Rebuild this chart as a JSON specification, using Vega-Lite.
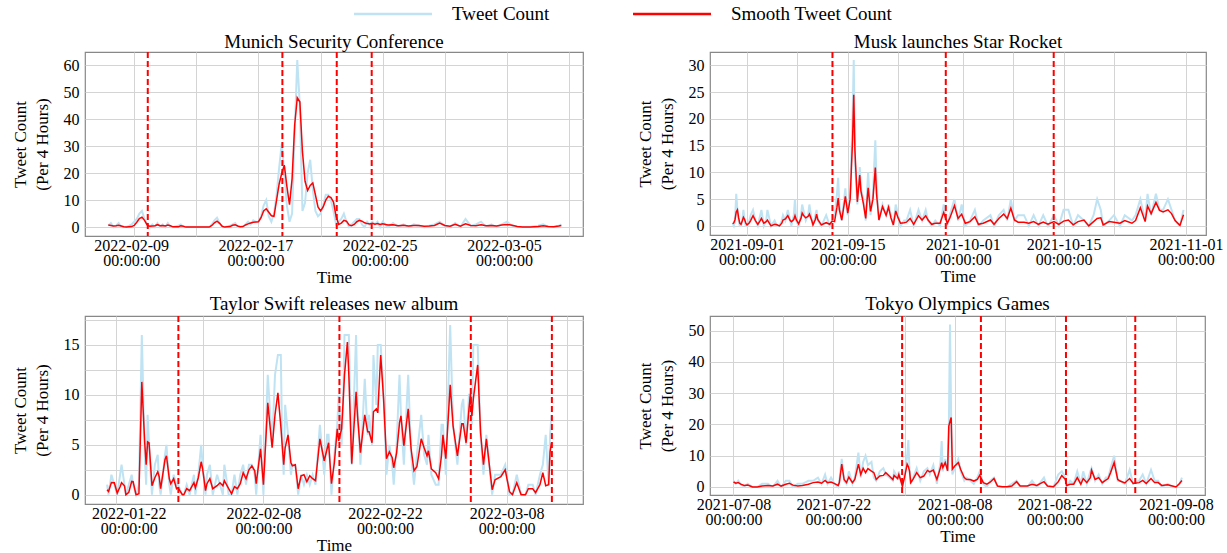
{
"$schema": "https://vega.github.io/schema/vega-lite/v6.json",
"background": "white",
"padding": {"left": 10, "top": 3, "right": 5, "bottom": 2},
"config": {
  "font": "'Liberation Serif', 'Times New Roman', 'DejaVu Serif', serif",
  "view": {"stroke": "#888888", "strokeWidth": 1.2},
  "style": {"guide-label": {"font": "'Liberation Serif', 'Times New Roman', 'DejaVu Serif', serif"}, "guide-title": {"font": "'Liberation Serif', 'Times New Roman', 'DejaVu Serif', serif"}},
  "axis": {"labelFont": "'Liberation Serif', 'Times New Roman', 'DejaVu Serif', serif", "titleFont": "'Liberation Serif', 'Times New Roman', 'DejaVu Serif', serif", "labelFontSize": 16, "titleFontSize": 17, "labelColor": "#000000", "titleColor": "#000000", "titleFontWeight": "normal", "gridColor": "#d4d4d4", "gridWidth": 1, "domain": false, "ticks": false, "labelOverlap": false, "labelBound": false, "labelFlush": false},
  "axisX": {"labelPadding": 1, "labelLineHeight": 15, "titlePadding": 1, "labelAngle": 0},
  "axisY": {"labelPadding": 6, "minExtent": 24, "maxExtent": 24, "titlePadding": 10, "titleLineHeight": 22},
  "title": {"font": "'Liberation Serif', 'Times New Roman', 'DejaVu Serif', serif", "fontSize": 19, "fontWeight": "normal", "color": "#000000", "anchor": "middle"}
},
"datasets": {
"p1": [
{"t":"2022-02-07T08:00","raw":0.5,"smooth":0.8},{"t":"2022-02-07T12:00","raw":1.5,"smooth":0.6},{"t":"2022-02-07T16:00","raw":0,"smooth":0.4},{"t":"2022-02-07T20:00","raw":0.5,"smooth":0.5},
{"t":"2022-02-08T00:00","raw":1.5,"smooth":0.7},{"t":"2022-02-08T04:00","raw":0,"smooth":0.4},{"t":"2022-02-08T08:00","raw":0,"smooth":0.1},{"t":"2022-02-08T12:00","raw":0,"smooth":0},{"t":"2022-02-08T16:00","raw":0.5,"smooth":0.1},{"t":"2022-02-08T20:00","raw":1,"smooth":0.2},
{"t":"2022-02-09T00:00","raw":2,"smooth":0.6},{"t":"2022-02-09T04:00","raw":3,"smooth":1.8},{"t":"2022-02-09T08:00","raw":5,"smooth":3.2},{"t":"2022-02-09T12:00","raw":6,"smooth":3.7},{"t":"2022-02-09T16:00","raw":3,"smooth":2.5},{"t":"2022-02-09T20:00","raw":1,"smooth":0.8},
{"t":"2022-02-10T00:00","raw":0,"smooth":0.3},{"t":"2022-02-10T04:00","raw":1,"smooth":0.4},{"t":"2022-02-10T08:00","raw":0,"smooth":0.5},{"t":"2022-02-10T12:00","raw":1.5,"smooth":0.9},{"t":"2022-02-10T16:00","raw":0,"smooth":0.5},{"t":"2022-02-10T20:00","raw":1,"smooth":0.6},
{"t":"2022-02-11T00:00","raw":0,"smooth":0.4},{"t":"2022-02-11T04:00","raw":1.5,"smooth":0.8},{"t":"2022-02-11T08:00","raw":0,"smooth":0.5},{"t":"2022-02-11T12:00","raw":0,"smooth":0.1},{"t":"2022-02-11T20:00","raw":0.5,"smooth":0.1},
{"t":"2022-02-12T00:00","raw":1,"smooth":0.5},{"t":"2022-02-12T04:00","raw":0,"smooth":0.3},{"t":"2022-02-12T08:00","raw":0,"smooth":0},{"t":"2022-02-13T00:00","raw":0,"smooth":0},{"t":"2022-02-13T20:00","raw":0,"smooth":0},
{"t":"2022-02-14T00:00","raw":1,"smooth":0.6},{"t":"2022-02-14T04:00","raw":2.5,"smooth":1.6},{"t":"2022-02-14T08:00","raw":3.5,"smooth":2.2},{"t":"2022-02-14T12:00","raw":1.5,"smooth":1.4},{"t":"2022-02-14T16:00","raw":0,"smooth":0.3},{"t":"2022-02-14T20:00","raw":0,"smooth":0},
{"t":"2022-02-15T04:00","raw":0.5,"smooth":0.2},{"t":"2022-02-15T08:00","raw":1,"smooth":0.7},{"t":"2022-02-15T12:00","raw":1.5,"smooth":0.9},{"t":"2022-02-15T16:00","raw":0,"smooth":0.4},{"t":"2022-02-15T20:00","raw":0,"smooth":0.1},
{"t":"2022-02-16T00:00","raw":0,"smooth":0.2},{"t":"2022-02-16T04:00","raw":1,"smooth":0.8},{"t":"2022-02-16T08:00","raw":2,"smooth":1.2},{"t":"2022-02-16T12:00","raw":1,"smooth":1.5},{"t":"2022-02-16T16:00","raw":2.5,"smooth":1.8},{"t":"2022-02-16T20:00","raw":2,"smooth":1.9},
{"t":"2022-02-17T00:00","raw":2,"smooth":2.0},{"t":"2022-02-17T04:00","raw":4,"smooth":3.5},{"t":"2022-02-17T08:00","raw":8,"smooth":6.0},{"t":"2022-02-17T12:00","raw":10,"smooth":6.8},{"t":"2022-02-17T16:00","raw":4,"smooth":5.5},{"t":"2022-02-17T20:00","raw":2,"smooth":4.2},
{"t":"2022-02-18T00:00","raw":5,"smooth":4.0},{"t":"2022-02-18T04:00","raw":12,"smooth":10},{"t":"2022-02-18T08:00","raw":22,"smooth":16},{"t":"2022-02-18T12:00","raw":31,"smooth":20},{"t":"2022-02-18T16:00","raw":20,"smooth":23},{"t":"2022-02-18T20:00","raw":8,"smooth":15},
{"t":"2022-02-19T00:00","raw":2,"smooth":8.3},{"t":"2022-02-19T04:00","raw":5,"smooth":18},{"t":"2022-02-19T08:00","raw":35,"smooth":38},{"t":"2022-02-19T12:00","raw":62,"smooth":48},{"t":"2022-02-19T16:00","raw":45,"smooth":46.5},{"t":"2022-02-19T20:00","raw":6,"smooth":28},
{"t":"2022-02-20T00:00","raw":9,"smooth":17},{"t":"2022-02-20T04:00","raw":20,"smooth":13.6},{"t":"2022-02-20T08:00","raw":25,"smooth":15.5},{"t":"2022-02-20T12:00","raw":14,"smooth":16.4},{"t":"2022-02-20T16:00","raw":6,"smooth":12},{"t":"2022-02-20T20:00","raw":4,"smooth":7.5},
{"t":"2022-02-21T00:00","raw":5,"smooth":6.0},{"t":"2022-02-21T04:00","raw":8,"smooth":7.5},{"t":"2022-02-21T08:00","raw":12,"smooth":10},{"t":"2022-02-21T12:00","raw":12,"smooth":11.5},{"t":"2022-02-21T16:00","raw":10,"smooth":11},{"t":"2022-02-21T20:00","raw":6,"smooth":9.3},
{"t":"2022-02-22T00:00","raw":1,"smooth":4},{"t":"2022-02-22T04:00","raw":2,"smooth":1.0},{"t":"2022-02-22T08:00","raw":3,"smooth":1.5},{"t":"2022-02-22T12:00","raw":5,"smooth":2.5},{"t":"2022-02-22T16:00","raw":2,"smooth":2.2},{"t":"2022-02-22T20:00","raw":0,"smooth":0.8},
{"t":"2022-02-23T00:00","raw":1,"smooth":0.5},{"t":"2022-02-23T04:00","raw":2,"smooth":1.0},{"t":"2022-02-23T08:00","raw":3,"smooth":2.0},{"t":"2022-02-23T12:00","raw":3,"smooth":2.5},{"t":"2022-02-23T16:00","raw":1,"smooth":2.2},{"t":"2022-02-23T20:00","raw":0,"smooth":1.6},
{"t":"2022-02-24T00:00","raw":2,"smooth":1.3},{"t":"2022-02-24T04:00","raw":1,"smooth":1.2},{"t":"2022-02-24T08:00","raw":2,"smooth":1.4},{"t":"2022-02-24T12:00","raw":1,"smooth":1.1},{"t":"2022-02-24T16:00","raw":2,"smooth":1.3},{"t":"2022-02-24T20:00","raw":0,"smooth":1.0},
{"t":"2022-02-25T00:00","raw":2,"smooth":1.2},{"t":"2022-02-25T08:00","raw":0,"smooth":0.8},{"t":"2022-02-25T16:00","raw":1.5,"smooth":0.9},{"t":"2022-02-26T00:00","raw":0,"smooth":0.5},{"t":"2022-02-26T08:00","raw":1,"smooth":0.7},{"t":"2022-02-26T16:00","raw":0,"smooth":0.4},
{"t":"2022-02-27T00:00","raw":1,"smooth":0.6},{"t":"2022-02-27T08:00","raw":0.5,"smooth":0.6},{"t":"2022-02-27T16:00","raw":0,"smooth":0.3},{"t":"2022-02-28T00:00","raw":0.5,"smooth":0.4},{"t":"2022-02-28T08:00","raw":1,"smooth":0.6},{"t":"2022-02-28T16:00","raw":2,"smooth":1.5},
{"t":"2022-03-01T00:00","raw":0.5,"smooth":0.6},{"t":"2022-03-01T08:00","raw":0,"smooth":0.3},{"t":"2022-03-01T16:00","raw":1.5,"smooth":1.0},{"t":"2022-03-02T00:00","raw":0,"smooth":0.3},{"t":"2022-03-02T08:00","raw":3,"smooth":1.2},{"t":"2022-03-02T16:00","raw":0.5,"smooth":0.6},
{"t":"2022-03-03T00:00","raw":1,"smooth":0.5},{"t":"2022-03-03T08:00","raw":2,"smooth":0.9},{"t":"2022-03-03T16:00","raw":0,"smooth":0.5},{"t":"2022-03-04T00:00","raw":1,"smooth":0.6},{"t":"2022-03-04T08:00","raw":0,"smooth":0.4},{"t":"2022-03-04T16:00","raw":1,"smooth":0.8},
{"t":"2022-03-05T00:00","raw":2,"smooth":1.0},{"t":"2022-03-05T08:00","raw":0.5,"smooth":0.7},{"t":"2022-03-05T16:00","raw":0,"smooth":0.2},{"t":"2022-03-06T00:00","raw":0,"smooth":0},{"t":"2022-03-06T12:00","raw":0,"smooth":0},
{"t":"2022-03-07T00:00","raw":0.5,"smooth":0.2},{"t":"2022-03-07T08:00","raw":1,"smooth":0.5},{"t":"2022-03-07T16:00","raw":0,"smooth":0.2},{"t":"2022-03-08T00:00","raw":0,"smooth":0.1},{"t":"2022-03-08T08:00","raw":0.5,"smooth":0.4},{"t":"2022-03-08T12:00","raw":1,"smooth":0.6}
],
"e1": [{"t":"2022-02-09T21:00"},{"t":"2022-02-18T13:00"},{"t":"2022-02-22T01:00"},{"t":"2022-02-24T07:00"}],
"p2": [
{"t":"2021-08-30T00:00","raw":0.5,"smooth":0.4},{"t":"2021-08-30T04:00","raw":0,"smooth":0.6},{"t":"2021-08-30T08:00","raw":1,"smooth":1.2},{"t":"2021-08-30T12:00","raw":6,"smooth":2.6},{"t":"2021-08-30T16:00","raw":3,"smooth":3.0},{"t":"2021-08-30T20:00","raw":1,"smooth":1.5},
{"t":"2021-08-31T00:00","raw":0,"smooth":0.5},{"t":"2021-08-31T04:00","raw":0,"smooth":0.3},{"t":"2021-08-31T08:00","raw":1,"smooth":0.9},{"t":"2021-08-31T12:00","raw":3,"smooth":1.6},{"t":"2021-08-31T16:00","raw":1,"smooth":1.2},{"t":"2021-08-31T20:00","raw":0,"smooth":0.5},
{"t":"2021-09-01T00:00","raw":0,"smooth":0.2},{"t":"2021-09-01T08:00","raw":1,"smooth":0.6},{"t":"2021-09-01T12:00","raw":2,"smooth":1.0},{"t":"2021-09-01T20:00","raw":3,"smooth":1.9},
{"t":"2021-09-02T04:00","raw":1,"smooth":1.0},{"t":"2021-09-02T12:00","raw":0,"smooth":0.3},{"t":"2021-09-02T20:00","raw":2,"smooth":1.0},
{"t":"2021-09-03T00:00","raw":3,"smooth":1.4},{"t":"2021-09-03T08:00","raw":0,"smooth":0.5},{"t":"2021-09-03T16:00","raw":1,"smooth":0.8},{"t":"2021-09-03T20:00","raw":3,"smooth":1.1},
{"t":"2021-09-04T08:00","raw":0,"smooth":0},{"t":"2021-09-04T20:00","raw":1,"smooth":0.3},{"t":"2021-09-05T04:00","raw":0,"smooth":0.2},{"t":"2021-09-05T12:00","raw":0,"smooth":0},{"t":"2021-09-05T20:00","raw":1,"smooth":0.5},
{"t":"2021-09-06T00:00","raw":2,"smooth":1.1},{"t":"2021-09-06T08:00","raw":1,"smooth":1.3},{"t":"2021-09-06T16:00","raw":3,"smooth":1.9},
{"t":"2021-09-07T00:00","raw":1,"smooth":1.0},{"t":"2021-09-07T04:00","raw":0,"smooth":0.8},{"t":"2021-09-07T12:00","raw":2,"smooth":1.2},{"t":"2021-09-07T16:00","raw":5,"smooth":1.9},{"t":"2021-09-07T20:00","raw":1,"smooth":1.2},
{"t":"2021-09-08T04:00","raw":0,"smooth":0.4},{"t":"2021-09-08T12:00","raw":2,"smooth":1.4},{"t":"2021-09-08T16:00","raw":4,"smooth":2.4},{"t":"2021-09-08T20:00","raw":3,"smooth":2.0},
{"t":"2021-09-09T04:00","raw":1,"smooth":1.5},{"t":"2021-09-09T12:00","raw":2,"smooth":1.8},{"t":"2021-09-09T16:00","raw":4,"smooth":2.2},
{"t":"2021-09-10T00:00","raw":1,"smooth":1.0},{"t":"2021-09-10T04:00","raw":0,"smooth":0.2},{"t":"2021-09-10T12:00","raw":2,"smooth":1.2},{"t":"2021-09-10T16:00","raw":3,"smooth":2.2},{"t":"2021-09-10T20:00","raw":1,"smooth":1.2},
{"t":"2021-09-11T08:00","raw":0,"smooth":0.2},{"t":"2021-09-11T16:00","raw":1,"smooth":0.4},{"t":"2021-09-12T00:00","raw":2,"smooth":0.6},{"t":"2021-09-12T12:00","raw":0,"smooth":0.3},{"t":"2021-09-12T20:00","raw":1,"smooth":0.9},
{"t":"2021-09-13T04:00","raw":2,"smooth":0.8},{"t":"2021-09-13T12:00","raw":6,"smooth":3.5},{"t":"2021-09-13T16:00","raw":9,"smooth":5.2},{"t":"2021-09-13T20:00","raw":4,"smooth":3.0},
{"t":"2021-09-14T04:00","raw":1,"smooth":1.1},{"t":"2021-09-14T12:00","raw":5,"smooth":4.0},{"t":"2021-09-14T16:00","raw":7,"smooth":5.5},{"t":"2021-09-14T20:00","raw":4,"smooth":4.0},
{"t":"2021-09-15T00:00","raw":2,"smooth":2.4},{"t":"2021-09-15T08:00","raw":6,"smooth":5.0},{"t":"2021-09-15T16:00","raw":20,"smooth":16},{"t":"2021-09-15T20:00","raw":31,"smooth":24.5},
{"t":"2021-09-16T00:00","raw":12,"smooth":14},{"t":"2021-09-16T08:00","raw":4,"smooth":4.5},{"t":"2021-09-16T16:00","raw":11,"smooth":9.5},{"t":"2021-09-16T20:00","raw":7,"smooth":6.5},
{"t":"2021-09-17T04:00","raw":5,"smooth":4.2},{"t":"2021-09-17T12:00","raw":1,"smooth":1.4},{"t":"2021-09-17T16:00","raw":6,"smooth":4.5},{"t":"2021-09-17T20:00","raw":10,"smooth":7.1},
{"t":"2021-09-18T04:00","raw":2,"smooth":2.7},{"t":"2021-09-18T12:00","raw":6,"smooth":5.0},{"t":"2021-09-18T20:00","raw":16,"smooth":10.9},
{"t":"2021-09-19T00:00","raw":8,"smooth":6.0},{"t":"2021-09-19T08:00","raw":1,"smooth":1.1},{"t":"2021-09-19T20:00","raw":4,"smooth":3.6},
{"t":"2021-09-20T08:00","raw":2,"smooth":2.0},{"t":"2021-09-20T16:00","raw":4,"smooth":3.5},{"t":"2021-09-21T00:00","raw":2,"smooth":1.5},{"t":"2021-09-21T08:00","raw":0,"smooth":0.2},{"t":"2021-09-21T16:00","raw":4,"smooth":2.8},
{"t":"2021-09-22T00:00","raw":2,"smooth":1.5},{"t":"2021-09-22T08:00","raw":0,"smooth":0.5},{"t":"2021-09-22T20:00","raw":1,"smooth":0.6},{"t":"2021-09-23T04:00","raw":1,"smooth":0.7},{"t":"2021-09-23T16:00","raw":3,"smooth":1.4},
{"t":"2021-09-24T04:00","raw":0,"smooth":0.3},{"t":"2021-09-24T20:00","raw":3,"smooth":1.9},{"t":"2021-09-25T08:00","raw":1,"smooth":1.1},{"t":"2021-09-25T20:00","raw":3,"smooth":1.9},
{"t":"2021-09-26T04:00","raw":1,"smooth":1.1},{"t":"2021-09-26T16:00","raw":0,"smooth":0.3},{"t":"2021-09-27T04:00","raw":1,"smooth":0.5},{"t":"2021-09-27T20:00","raw":0,"smooth":0.5},
{"t":"2021-09-28T08:00","raw":4,"smooth":2.5},{"t":"2021-09-28T20:00","raw":0,"smooth":0.5},{"t":"2021-09-29T04:00","raw":2,"smooth":1.4},{"t":"2021-09-29T20:00","raw":5,"smooth":3.8},
{"t":"2021-09-30T08:00","raw":1,"smooth":1.4},{"t":"2021-09-30T20:00","raw":4,"smooth":2.2},{"t":"2021-10-01T08:00","raw":0,"smooth":0.5},{"t":"2021-10-02T00:00","raw":1,"smooth":0.8},{"t":"2021-10-02T16:00","raw":3,"smooth":1.7},
{"t":"2021-10-03T04:00","raw":0,"smooth":0.3},{"t":"2021-10-03T20:00","raw":1,"smooth":0.5},{"t":"2021-10-04T20:00","raw":2,"smooth":1.1},{"t":"2021-10-05T08:00","raw":0,"smooth":0.3},
{"t":"2021-10-06T00:00","raw":2,"smooth":1.4},{"t":"2021-10-06T16:00","raw":3,"smooth":2.2},{"t":"2021-10-07T04:00","raw":1,"smooth":1.4},{"t":"2021-10-07T16:00","raw":5,"smooth":3.3},
{"t":"2021-10-08T04:00","raw":1,"smooth":1.1},{"t":"2021-10-08T16:00","raw":2,"smooth":0.7},{"t":"2021-10-09T12:00","raw":2,"smooth":0.7},{"t":"2021-10-10T04:00","raw":0,"smooth":0.5},{"t":"2021-10-10T20:00","raw":2,"smooth":0.8},
{"t":"2021-10-11T12:00","raw":0,"smooth":0.3},{"t":"2021-10-12T04:00","raw":2,"smooth":0.7},{"t":"2021-10-12T20:00","raw":0,"smooth":0.3},{"t":"2021-10-13T16:00","raw":2,"smooth":0.8},
{"t":"2021-10-14T08:00","raw":0,"smooth":0.3},{"t":"2021-10-15T00:00","raw":3,"smooth":0.9},{"t":"2021-10-15T16:00","raw":3,"smooth":1.1},{"t":"2021-10-16T08:00","raw":0,"smooth":0.2},
{"t":"2021-10-17T00:00","raw":2,"smooth":0.8},{"t":"2021-10-17T20:00","raw":1,"smooth":1.1},{"t":"2021-10-18T12:00","raw":0,"smooth":0},{"t":"2021-10-19T04:00","raw":2,"smooth":0.8},{"t":"2021-10-19T16:00","raw":5,"smooth":1.4},
{"t":"2021-10-20T04:00","raw":3,"smooth":1.5},{"t":"2021-10-20T12:00","raw":0,"smooth":0.2},{"t":"2021-10-21T08:00","raw":1,"smooth":0.8},{"t":"2021-10-22T00:00","raw":2,"smooth":0.7},{"t":"2021-10-22T20:00","raw":0,"smooth":0.5},
{"t":"2021-10-23T12:00","raw":2,"smooth":1.0},{"t":"2021-10-24T12:00","raw":1,"smooth":0.5},{"t":"2021-10-25T00:00","raw":2,"smooth":1.0},{"t":"2021-10-25T16:00","raw":5,"smooth":3.4},
{"t":"2021-10-26T08:00","raw":1,"smooth":0.8},{"t":"2021-10-26T16:00","raw":6,"smooth":3.7},{"t":"2021-10-27T04:00","raw":2,"smooth":2.3},{"t":"2021-10-27T20:00","raw":6,"smooth":4.4},
{"t":"2021-10-28T08:00","raw":3,"smooth":2.9},{"t":"2021-10-28T20:00","raw":3,"smooth":2.6},{"t":"2021-10-29T12:00","raw":5,"smooth":3.0},{"t":"2021-10-30T00:00","raw":3,"smooth":2.3},{"t":"2021-10-30T12:00","raw":1,"smooth":1.0},
{"t":"2021-10-31T04:00","raw":0,"smooth":0.1},{"t":"2021-10-31T16:00","raw":3,"smooth":2.1}
],
"e2": [{"t":"2021-09-12T21:00"},{"t":"2021-09-28T15:00"},{"t":"2021-10-13T15:00"}],
"p3": [
{"t":"2022-01-21T00:00","raw":1,"smooth":0.5},{"t":"2022-01-21T04:00","raw":0,"smooth":0.33},{"t":"2022-01-21T12:00","raw":2,"smooth":1.23},{"t":"2022-01-21T20:00","raw":1,"smooth":1.2},
{"t":"2022-01-22T04:00","raw":0,"smooth":0.17},{"t":"2022-01-22T12:00","raw":2,"smooth":0.8},{"t":"2022-01-22T16:00","raw":3,"smooth":1.2},
{"t":"2022-01-23T00:00","raw":1,"smooth":0.9},{"t":"2022-01-23T04:00","raw":0,"smooth":0},{"t":"2022-01-23T12:00","raw":1,"smooth":0.25},{"t":"2022-01-23T20:00","raw":2,"smooth":1.33},
{"t":"2022-01-24T00:00","raw":1,"smooth":1.3},{"t":"2022-01-24T08:00","raw":0,"smooth":0},{"t":"2022-01-24T16:00","raw":1,"smooth":0.1},
{"t":"2022-01-25T00:00","raw":16,"smooth":11.3},{"t":"2022-01-25T08:00","raw":4,"smooth":5.2},{"t":"2022-01-25T12:00","raw":1,"smooth":3.0},{"t":"2022-01-25T16:00","raw":8,"smooth":5.3},{"t":"2022-01-25T20:00","raw":5,"smooth":5.2},
{"t":"2022-01-26T04:00","raw":0,"smooth":0.9},{"t":"2022-01-26T12:00","raw":3,"smooth":1.7},{"t":"2022-01-26T20:00","raw":4,"smooth":2.3},
{"t":"2022-01-27T00:00","raw":1,"smooth":1.8},{"t":"2022-01-27T04:00","raw":0,"smooth":0.6},{"t":"2022-01-27T16:00","raw":4,"smooth":3.5},{"t":"2022-01-27T20:00","raw":5,"smooth":3.9},
{"t":"2022-01-28T04:00","raw":1,"smooth":1.6},{"t":"2022-01-28T08:00","raw":0,"smooth":1.1},{"t":"2022-01-28T16:00","raw":2,"smooth":1.6},
{"t":"2022-01-29T00:00","raw":1,"smooth":0.6},{"t":"2022-01-29T04:00","raw":1,"smooth":0.7},{"t":"2022-01-29T16:00","raw":0,"smooth":0},{"t":"2022-01-29T20:00","raw":0,"smooth":0},
{"t":"2022-01-30T04:00","raw":1,"smooth":0.6},{"t":"2022-01-30T12:00","raw":0,"smooth":0.4},
{"t":"2022-01-31T00:00","raw":2,"smooth":1.2},{"t":"2022-01-31T04:00","raw":0,"smooth":0.7},{"t":"2022-01-31T12:00","raw":2,"smooth":1.7},{"t":"2022-01-31T20:00","raw":5,"smooth":3.3},
{"t":"2022-02-01T00:00","raw":3,"smooth":2.6},{"t":"2022-02-01T08:00","raw":0,"smooth":0.4},{"t":"2022-02-01T12:00","raw":2,"smooth":1.1},{"t":"2022-02-01T20:00","raw":3,"smooth":1.6},
{"t":"2022-02-02T04:00","raw":0,"smooth":0.6},{"t":"2022-02-02T16:00","raw":2,"smooth":0.9},
{"t":"2022-02-03T00:00","raw":1,"smooth":1.2},{"t":"2022-02-03T08:00","raw":0,"smooth":0.9},{"t":"2022-02-03T12:00","raw":3,"smooth":1.4},
{"t":"2022-02-04T00:00","raw":0,"smooth":0.6},{"t":"2022-02-04T08:00","raw":0,"smooth":0.1},{"t":"2022-02-04T16:00","raw":2,"smooth":0.8},
{"t":"2022-02-05T00:00","raw":0,"smooth":0.6},{"t":"2022-02-05T08:00","raw":2,"smooth":1.1},{"t":"2022-02-05T16:00","raw":3,"smooth":2.2},
{"t":"2022-02-06T00:00","raw":1,"smooth":1.6},{"t":"2022-02-06T08:00","raw":3,"smooth":2.5},{"t":"2022-02-06T16:00","raw":3,"smooth":2.9},
{"t":"2022-02-07T00:00","raw":2,"smooth":2.4},{"t":"2022-02-07T04:00","raw":0,"smooth":1.1},{"t":"2022-02-07T16:00","raw":6,"smooth":4.6},
{"t":"2022-02-08T00:00","raw":0,"smooth":1.0},{"t":"2022-02-08T12:00","raw":12,"smooth":9.2},
{"t":"2022-02-09T00:00","raw":5,"smooth":4.7},{"t":"2022-02-09T08:00","raw":12,"smooth":8},{"t":"2022-02-09T16:00","raw":14,"smooth":10.2},
{"t":"2022-02-10T00:00","raw":14,"smooth":6.9},{"t":"2022-02-10T04:00","raw":5,"smooth":4.9},{"t":"2022-02-10T08:00","raw":2,"smooth":3.0},{"t":"2022-02-10T12:00","raw":9,"smooth":4.7},{"t":"2022-02-10T20:00","raw":6,"smooth":6.0},
{"t":"2022-02-11T04:00","raw":2,"smooth":3.2},{"t":"2022-02-11T08:00","raw":3,"smooth":2.9},{"t":"2022-02-11T16:00","raw":3,"smooth":3.0},
{"t":"2022-02-12T00:00","raw":0,"smooth":0.6},{"t":"2022-02-12T08:00","raw":2,"smooth":1.9},{"t":"2022-02-12T16:00","raw":1,"smooth":2.0},
{"t":"2022-02-13T00:00","raw":2,"smooth":1.3},{"t":"2022-02-13T08:00","raw":1,"smooth":1.9},{"t":"2022-02-13T16:00","raw":2,"smooth":1.6},
{"t":"2022-02-14T00:00","raw":1,"smooth":1.4},{"t":"2022-02-14T12:00","raw":7,"smooth":5.6},
{"t":"2022-02-15T00:00","raw":2,"smooth":3.4},{"t":"2022-02-15T08:00","raw":6,"smooth":4.6},{"t":"2022-02-15T12:00","raw":6,"smooth":5.2},{"t":"2022-02-15T20:00","raw":0,"smooth":1.1},
{"t":"2022-02-16T04:00","raw":4,"smooth":3.2},{"t":"2022-02-16T12:00","raw":7,"smooth":6.6},{"t":"2022-02-16T16:00","raw":10,"smooth":5.4},
{"t":"2022-02-17T00:00","raw":5,"smooth":6.6},{"t":"2022-02-17T04:00","raw":9,"smooth":9.2},{"t":"2022-02-17T08:00","raw":16,"smooth":12},{"t":"2022-02-17T16:00","raw":16,"smooth":15.3},{"t":"2022-02-17T20:00","raw":16,"smooth":12},
{"t":"2022-02-18T04:00","raw":3,"smooth":3.1},{"t":"2022-02-18T16:00","raw":16,"smooth":10.3},{"t":"2022-02-18T20:00","raw":9,"smooth":7.9},
{"t":"2022-02-19T04:00","raw":3,"smooth":4.2},{"t":"2022-02-19T16:00","raw":11.6,"smooth":8.0},
{"t":"2022-02-20T00:00","raw":6,"smooth":6.3},{"t":"2022-02-20T04:00","raw":8,"smooth":6.3},{"t":"2022-02-20T12:00","raw":5,"smooth":5.2},{"t":"2022-02-20T16:00","raw":14,"smooth":8.3},
{"t":"2022-02-21T00:00","raw":9,"smooth":8.6},{"t":"2022-02-21T04:00","raw":15,"smooth":8.2},{"t":"2022-02-21T12:00","raw":15,"smooth":14},{"t":"2022-02-21T20:00","raw":10,"smooth":9.6},
{"t":"2022-02-22T04:00","raw":2,"smooth":3.6},{"t":"2022-02-22T12:00","raw":5,"smooth":4.3},{"t":"2022-02-22T20:00","raw":3,"smooth":3.7},
{"t":"2022-02-23T00:00","raw":1,"smooth":2.7},{"t":"2022-02-23T08:00","raw":5,"smooth":4.2},{"t":"2022-02-23T16:00","raw":12,"smooth":7.2},{"t":"2022-02-23T20:00","raw":8,"smooth":7.9},
{"t":"2022-02-24T04:00","raw":3,"smooth":4.9},{"t":"2022-02-24T16:00","raw":12,"smooth":8.6},
{"t":"2022-02-25T00:00","raw":4,"smooth":4.6},{"t":"2022-02-25T08:00","raw":1,"smooth":2.4},{"t":"2022-02-25T16:00","raw":4,"smooth":2.8},
{"t":"2022-02-26T04:00","raw":8,"smooth":5.6},{"t":"2022-02-26T12:00","raw":4,"smooth":4.7},{"t":"2022-02-26T20:00","raw":3,"smooth":3.9},
{"t":"2022-02-27T00:00","raw":6,"smooth":4.4},{"t":"2022-02-27T08:00","raw":2,"smooth":2.6},{"t":"2022-02-27T20:00","raw":1,"smooth":2.2},
{"t":"2022-02-28T04:00","raw":1,"smooth":1.6},{"t":"2022-02-28T12:00","raw":7,"smooth":3.9},{"t":"2022-02-28T16:00","raw":7,"smooth":6.0},
{"t":"2022-03-01T00:00","raw":2,"smooth":3.6},{"t":"2022-03-01T12:00","raw":17,"smooth":11},{"t":"2022-03-01T20:00","raw":7,"smooth":6.9},
{"t":"2022-03-02T08:00","raw":3,"smooth":3.9},{"t":"2022-03-02T20:00","raw":9,"smooth":7.1},
{"t":"2022-03-03T00:00","raw":9.6,"smooth":7.1},{"t":"2022-03-03T08:00","raw":5,"smooth":5.2},{"t":"2022-03-03T16:00","raw":10,"smooth":8.6},{"t":"2022-03-03T20:00","raw":10,"smooth":10.1},
{"t":"2022-03-04T00:00","raw":7,"smooth":7.9},{"t":"2022-03-04T04:00","raw":15,"smooth":9.6},{"t":"2022-03-04T16:00","raw":15,"smooth":13},
{"t":"2022-03-05T00:00","raw":6,"smooth":6.2},{"t":"2022-03-05T08:00","raw":2,"smooth":3.0},{"t":"2022-03-05T16:00","raw":6,"smooth":5.6},
{"t":"2022-03-06T08:00","raw":0,"smooth":0.5},{"t":"2022-03-06T16:00","raw":2,"smooth":1.5},{"t":"2022-03-07T08:00","raw":2,"smooth":1.8},{"t":"2022-03-07T20:00","raw":3,"smooth":2.5},
{"t":"2022-03-08T08:00","raw":0,"smooth":0.3},{"t":"2022-03-08T16:00","raw":0,"smooth":0},{"t":"2022-03-09T04:00","raw":2,"smooth":1.2},{"t":"2022-03-09T16:00","raw":0,"smooth":0},
{"t":"2022-03-10T04:00","raw":0,"smooth":0},{"t":"2022-03-10T12:00","raw":1,"smooth":0.6},{"t":"2022-03-11T00:00","raw":1,"smooth":0.6},{"t":"2022-03-11T08:00","raw":0,"smooth":0.2},{"t":"2022-03-11T20:00","raw":2,"smooth":1.0},
{"t":"2022-03-12T04:00","raw":3,"smooth":2.2},{"t":"2022-03-12T12:00","raw":6,"smooth":0.9},{"t":"2022-03-12T20:00","raw":1,"smooth":1.0},
{"t":"2022-03-13T00:00","raw":6,"smooth":4.3},{"t":"2022-03-13T04:00","raw":8,"smooth":5.2}
],
"e3": [{"t":"2022-01-29T05:00"},{"t":"2022-02-16T18:00"},{"t":"2022-03-03T21:00"},{"t":"2022-03-13T05:00"}],
"p4": [
{"t":"2021-07-08T00:00","raw":2,"smooth":1.6},{"t":"2021-07-08T08:00","raw":1,"smooth":1.2},{"t":"2021-07-08T16:00","raw":2,"smooth":1.4},
{"t":"2021-07-09T00:00","raw":1,"smooth":0.9},{"t":"2021-07-09T12:00","raw":0,"smooth":0.5},{"t":"2021-07-10T00:00","raw":1,"smooth":0.6},{"t":"2021-07-10T16:00","raw":0,"smooth":0},
{"t":"2021-07-11T08:00","raw":0,"smooth":0},{"t":"2021-07-12T00:00","raw":1,"smooth":0.3},{"t":"2021-07-12T20:00","raw":1,"smooth":0.5},{"t":"2021-07-13T12:00","raw":0,"smooth":0.3},
{"t":"2021-07-14T04:00","raw":2,"smooth":0.9},{"t":"2021-07-14T16:00","raw":0,"smooth":0.3},{"t":"2021-07-15T08:00","raw":2,"smooth":0.9},{"t":"2021-07-15T20:00","raw":2,"smooth":1.2},
{"t":"2021-07-16T08:00","raw":0,"smooth":0.6},{"t":"2021-07-17T00:00","raw":1,"smooth":0.3},{"t":"2021-07-17T16:00","raw":1,"smooth":0.5},{"t":"2021-07-18T12:00","raw":2,"smooth":0.9},
{"t":"2021-07-19T04:00","raw":2,"smooth":1.4},{"t":"2021-07-19T20:00","raw":3,"smooth":1.6},{"t":"2021-07-20T08:00","raw":1,"smooth":1.2},{"t":"2021-07-20T20:00","raw":4,"smooth":2.1},
{"t":"2021-07-21T04:00","raw":1,"smooth":1.4},{"t":"2021-07-21T16:00","raw":3,"smooth":1.6},{"t":"2021-07-22T04:00","raw":1,"smooth":1.1},{"t":"2021-07-22T16:00","raw":0,"smooth":0.5},{"t":"2021-07-22T20:00","raw":2,"smooth":1.4},
{"t":"2021-07-23T04:00","raw":9,"smooth":7.3},{"t":"2021-07-23T12:00","raw":2,"smooth":2.4},{"t":"2021-07-23T20:00","raw":1,"smooth":1.4},
{"t":"2021-07-24T04:00","raw":5,"smooth":3.2},{"t":"2021-07-24T16:00","raw":1,"smooth":1.4},{"t":"2021-07-25T00:00","raw":3,"smooth":2.4},{"t":"2021-07-25T12:00","raw":11,"smooth":7.3},{"t":"2021-07-25T20:00","raw":3,"smooth":4.0},
{"t":"2021-07-26T04:00","raw":8,"smooth":6.0},{"t":"2021-07-26T12:00","raw":10,"smooth":4.6},{"t":"2021-07-26T20:00","raw":7,"smooth":5.9},
{"t":"2021-07-27T08:00","raw":8,"smooth":5.1},{"t":"2021-07-27T16:00","raw":3,"smooth":4.6},{"t":"2021-07-28T00:00","raw":2,"smooth":2.4},{"t":"2021-07-28T12:00","raw":5,"smooth":3.5},
{"t":"2021-07-29T00:00","raw":6,"smooth":3.7},{"t":"2021-07-29T08:00","raw":4,"smooth":4.6},{"t":"2021-07-29T20:00","raw":3,"smooth":3.5},
{"t":"2021-07-30T08:00","raw":2,"smooth":2.4},{"t":"2021-07-30T12:00","raw":5,"smooth":3.7},{"t":"2021-07-31T00:00","raw":3,"smooth":2.7},{"t":"2021-07-31T04:00","raw":5,"smooth":4.0},{"t":"2021-07-31T16:00","raw":0,"smooth":0.3},
{"t":"2021-08-01T00:00","raw":4,"smooth":3.5},{"t":"2021-08-01T08:00","raw":10,"smooth":7.3},{"t":"2021-08-01T12:00","raw":15,"smooth":6.5},{"t":"2021-08-01T16:00","raw":5,"smooth":5.1},{"t":"2021-08-01T20:00","raw":1,"smooth":1.4},
{"t":"2021-08-02T04:00","raw":3,"smooth":2.5},{"t":"2021-08-02T16:00","raw":6,"smooth":4.6},{"t":"2021-08-03T04:00","raw":2,"smooth":3.0},{"t":"2021-08-03T16:00","raw":5,"smooth":3.5},
{"t":"2021-08-04T04:00","raw":6,"smooth":5.3},{"t":"2021-08-04T12:00","raw":4,"smooth":4.8},{"t":"2021-08-05T00:00","raw":7,"smooth":5.4},{"t":"2021-08-05T12:00","raw":1,"smooth":2.4},
{"t":"2021-08-06T00:00","raw":8,"smooth":6.2},{"t":"2021-08-06T04:00","raw":14.7,"smooth":7.8},{"t":"2021-08-06T08:00","raw":5,"smooth":6.2},{"t":"2021-08-06T16:00","raw":9,"smooth":7.8},
{"t":"2021-08-07T00:00","raw":5,"smooth":5.2},{"t":"2021-08-07T04:00","raw":18,"smooth":19.5},{"t":"2021-08-07T08:00","raw":52,"smooth":21},{"t":"2021-08-07T12:00","raw":22,"smooth":22.2},{"t":"2021-08-07T16:00","raw":4,"smooth":5.7},
{"t":"2021-08-08T00:00","raw":6,"smooth":6.7},{"t":"2021-08-08T12:00","raw":9,"smooth":7.8},{"t":"2021-08-08T20:00","raw":5,"smooth":5.6},
{"t":"2021-08-09T08:00","raw":2,"smooth":3.0},{"t":"2021-08-09T16:00","raw":3,"smooth":2.4},{"t":"2021-08-10T04:00","raw":2,"smooth":2.4},{"t":"2021-08-10T16:00","raw":1,"smooth":1.9},
{"t":"2021-08-11T04:00","raw":3,"smooth":2.4},{"t":"2021-08-11T12:00","raw":5,"smooth":3.7},{"t":"2021-08-12T00:00","raw":1,"smooth":1.4},{"t":"2021-08-12T12:00","raw":0,"smooth":0.9},
{"t":"2021-08-13T00:00","raw":2,"smooth":1.6},{"t":"2021-08-13T12:00","raw":3,"smooth":2.7},{"t":"2021-08-14T00:00","raw":0,"smooth":0.3},{"t":"2021-08-14T16:00","raw":0,"smooth":0.1},
{"t":"2021-08-15T08:00","raw":0,"smooth":0.1},{"t":"2021-08-16T00:00","raw":1,"smooth":0.3},{"t":"2021-08-16T16:00","raw":2,"smooth":1.7},{"t":"2021-08-17T04:00","raw":0,"smooth":0.3},
{"t":"2021-08-18T04:00","raw":0,"smooth":0.3},{"t":"2021-08-18T20:00","raw":2,"smooth":0.9},{"t":"2021-08-19T12:00","raw":0,"smooth":0.5},{"t":"2021-08-20T12:00","raw":3,"smooth":1.7},
{"t":"2021-08-21T00:00","raw":0,"smooth":0.3},{"t":"2021-08-21T20:00","raw":0,"smooth":0.1},{"t":"2021-08-22T12:00","raw":4,"smooth":1.7},
{"t":"2021-08-23T00:00","raw":5,"smooth":3.7},{"t":"2021-08-23T12:00","raw":3,"smooth":2.4},{"t":"2021-08-23T16:00","raw":0,"smooth":0.5},
{"t":"2021-08-24T04:00","raw":2,"smooth":0.9},{"t":"2021-08-24T16:00","raw":1,"smooth":0.9},{"t":"2021-08-25T04:00","raw":5,"smooth":3.0},{"t":"2021-08-25T16:00","raw":1,"smooth":0.9},
{"t":"2021-08-26T00:00","raw":5,"smooth":2.7},{"t":"2021-08-26T12:00","raw":1,"smooth":1.4},{"t":"2021-08-27T00:00","raw":5,"smooth":3.0},{"t":"2021-08-27T04:00","raw":6,"smooth":5.4},{"t":"2021-08-27T16:00","raw":2,"smooth":2.4},
{"t":"2021-08-28T04:00","raw":4,"smooth":3.0},{"t":"2021-08-28T16:00","raw":1,"smooth":1.4},{"t":"2021-08-29T04:00","raw":3,"smooth":2.2},{"t":"2021-08-29T12:00","raw":3,"smooth":2.7},{"t":"2021-08-29T20:00","raw":6,"smooth":4.6},
{"t":"2021-08-30T08:00","raw":10,"smooth":7.8},{"t":"2021-08-30T20:00","raw":2,"smooth":2.4},{"t":"2021-08-31T04:00","raw":2,"smooth":1.9},{"t":"2021-08-31T20:00","raw":1,"smooth":1.3},
{"t":"2021-09-01T12:00","raw":5.5,"smooth":2.7},{"t":"2021-09-02T00:00","raw":1,"smooth":1.1},{"t":"2021-09-02T20:00","raw":2,"smooth":1.4},{"t":"2021-09-03T08:00","raw":4,"smooth":2.1},{"t":"2021-09-03T20:00","raw":1,"smooth":1.1},
{"t":"2021-09-04T12:00","raw":5.5,"smooth":2.7},{"t":"2021-09-05T00:00","raw":2,"smooth":1.4},{"t":"2021-09-05T12:00","raw":2,"smooth":1.4},{"t":"2021-09-06T00:00","raw":0,"smooth":0.5},{"t":"2021-09-06T20:00","raw":1,"smooth":0.7},
{"t":"2021-09-07T12:00","raw":0,"smooth":0.3},{"t":"2021-09-08T00:00","raw":0,"smooth":0},{"t":"2021-09-08T12:00","raw":1,"smooth":1.1},{"t":"2021-09-08T20:00","raw":3,"smooth":2.1}
],
"e4": [{"t":"2021-07-31T15:00"},{"t":"2021-08-11T16:00"},{"t":"2021-08-23T14:00"},{"t":"2021-09-02T07:00"}]
},
"columns": 2,
"spacing": {"row": 80, "column": 127},
"bounds": "flush",
"resolve": {"scale": {"color": "shared"}, "legend": {"color": "shared"}},
"concat": [
{
 "width": 498, "height": 184,
 "title": {"text": "Munich Security Conference", "offset": -1},
 "encoding": {"x": {"field": "t", "type": "temporal", "scale": {"domain": [{"year":2022,"month":2,"date":5,"hours":20},{"year":2022,"month":3,"date":9,"hours":21,"minutes":30}], "nice": false},
   "axis": {"title": "Time", "grid": true, "labelOffset": -3, "labelFont": "'Liberation Serif', 'Times New Roman', 'DejaVu Serif', serif", "titleFont": "'Liberation Serif', 'Times New Roman', 'DejaVu Serif', serif", "values": [{"year":2022,"month":2,"date":9},{"year":2022,"month":2,"date":13},{"year":2022,"month":2,"date":17},{"year":2022,"month":2,"date":21},{"year":2022,"month":2,"date":25},{"year":2022,"month":3,"date":1},{"year":2022,"month":3,"date":5},{"year":2022,"month":3,"date":9}],
   "labelExpr": "indexof(['02-09','02-17','02-25','03-05'], timeFormat(datum.value, '%m-%d')) >= 0 ? [timeFormat(datum.value, '%Y-%m-%d'), '00:00:00'] : ''"}}},
 "layer": [
  {"data": {"name": "p1"}, "transform": [{"fold": ["raw", "smooth"], "as": ["series", "v"]}],
   "encoding": {"y": {"field": "v", "type": "quantitative", "scale": {"domain": [-3.3, 65], "nice": false, "zero": false}, "axis": {"title": ["Tweet Count", "(Per 4 Hours)"], "grid": true, "labelFont": "'Liberation Serif', 'Times New Roman', 'DejaVu Serif', serif", "titleFont": "'Liberation Serif', 'Times New Roman', 'DejaVu Serif', serif", "values": [0,10,20,30,40,50,60]}},
     "color": {"field": "series", "type": "nominal", "scale": {"domain": ["raw", "smooth"], "range": ["#bfe3f3", "#ff0000"]},
       "legend": {"title": null, "orient": "none", "legendX": 297, "legendY": -49, "direction": "horizontal", "symbolType": "M-4,0H4", "symbolSize": 380, "symbolStrokeWidth": 2.5, "labelFont": "'Liberation Serif', 'Times New Roman', 'DejaVu Serif', serif", "labelFontSize": 19, "labelColor": "#000000", "labelOffset": 48, "labelLimit": 400, "columnPadding": 78, "labelExpr": "datum.label == 'raw' ? 'Tweet Count' : 'Smooth Tweet Count'"}}},
   "layer": [
     {"transform": [{"filter": "datum.series == 'raw'"}], "mark": {"type": "line", "strokeWidth": 2}},
     {"transform": [{"filter": "datum.series == 'smooth'"}], "mark": {"type": "line", "strokeWidth": 1.5}}
   ]},
  {"data": {"name": "e1"}, "mark": {"type": "rule", "color": "#ff0000", "strokeDash": [6, 3], "strokeWidth": 2}, "encoding": {}}
 ]
},
{
 "width": 496, "height": 183,
 "title": {"text": "Musk launches Star Rocket", "offset": -1},
 "encoding": {"x": {"field": "t", "type": "temporal", "scale": {"domain": [{"year":2021,"month":8,"date":26,"hours":20,"minutes":30},{"year":2021,"month":11,"date":3,"hours":19}], "nice": false},
   "axis": {"title": "Time", "grid": true, "labelFont": "'Liberation Serif', 'Times New Roman', 'DejaVu Serif', serif", "titleFont": "'Liberation Serif', 'Times New Roman', 'DejaVu Serif', serif", "values": [{"year":2021,"month":9,"date":1},{"year":2021,"month":9,"date":8},{"year":2021,"month":9,"date":15},{"year":2021,"month":9,"date":22},{"year":2021,"month":10,"date":1},{"year":2021,"month":10,"date":8},{"year":2021,"month":10,"date":15},{"year":2021,"month":10,"date":22},{"year":2021,"month":11,"date":1}],
   "labelExpr": "indexof(['09-01','09-15','10-01','10-15','11-01'], timeFormat(datum.value, '%m-%d')) >= 0 ? [timeFormat(datum.value, '%Y-%m-%d'), '00:00:00'] : ''"}}},
 "layer": [
  {"data": {"name": "p2"}, "transform": [{"fold": ["raw", "smooth"], "as": ["series", "v"]}],
   "encoding": {"y": {"field": "v", "type": "quantitative", "scale": {"domain": [-1.7, 32.5], "nice": false, "zero": false}, "axis": {"title": ["Tweet Count", "(Per 4 Hours)"], "grid": true, "labelFont": "'Liberation Serif', 'Times New Roman', 'DejaVu Serif', serif", "titleFont": "'Liberation Serif', 'Times New Roman', 'DejaVu Serif', serif", "values": [0,5,10,15,20,25,30]}},
     "color": {"field": "series", "type": "nominal", "scale": {"domain": ["raw", "smooth"], "range": ["#bfe3f3", "#ff0000"]},
       "legend": {"title": null, "orient": "none", "legendX": 297, "legendY": -49, "direction": "horizontal", "symbolType": "M-4,0H4", "symbolSize": 380, "symbolStrokeWidth": 2.5, "labelFont": "'Liberation Serif', 'Times New Roman', 'DejaVu Serif', serif", "labelFontSize": 19, "labelColor": "#000000", "labelOffset": 48, "labelLimit": 400, "columnPadding": 78, "labelExpr": "datum.label == 'raw' ? 'Tweet Count' : 'Smooth Tweet Count'"}}},
   "layer": [
     {"transform": [{"filter": "datum.series == 'raw'"}], "mark": {"type": "line", "strokeWidth": 2}},
     {"transform": [{"filter": "datum.series == 'smooth'"}], "mark": {"type": "line", "strokeWidth": 1.5}}
   ]},
  {"data": {"name": "e2"}, "mark": {"type": "rule", "color": "#ff0000", "strokeDash": [6, 3], "strokeWidth": 2}, "encoding": {}}
 ]
},
{
 "width": 498, "height": 188,
 "title": {"text": "Taylor Swift releases new album", "offset": -2},
 "encoding": {"x": {"field": "t", "type": "temporal", "scale": {"domain": [{"year":2022,"month":1,"date":18,"hours":11},{"year":2022,"month":3,"date":16,"hours":19}], "nice": false},
   "axis": {"title": "Time", "grid": true, "labelOffset": {"condition": {"test": "timeFormat(datum.value, '%m-%d') == '01-22'", "value": 13}, "value": 0}, "labelFont": "'Liberation Serif', 'Times New Roman', 'DejaVu Serif', serif", "titleFont": "'Liberation Serif', 'Times New Roman', 'DejaVu Serif', serif", "values": [{"year":2022,"month":1,"date":22},{"year":2022,"month":2,"date":1},{"year":2022,"month":2,"date":8},{"year":2022,"month":2,"date":15},{"year":2022,"month":2,"date":22},{"year":2022,"month":3,"date":1},{"year":2022,"month":3,"date":8},{"year":2022,"month":3,"date":15}],
   "labelExpr": "indexof(['01-22','02-08','02-22','03-08'], timeFormat(datum.value, '%m-%d')) >= 0 ? [timeFormat(datum.value, '%Y-%m-%d'), '00:00:00'] : ''"}}},
 "layer": [
  {"data": {"name": "p3"}, "transform": [{"fold": ["raw", "smooth"], "as": ["series", "v"]}],
   "encoding": {"y": {"field": "v", "type": "quantitative", "scale": {"domain": [-0.93, 17.9], "nice": false, "zero": false}, "axis": {"title": ["Tweet Count", "(Per 4 Hours)"], "grid": true, "labelFont": "'Liberation Serif', 'Times New Roman', 'DejaVu Serif', serif", "titleFont": "'Liberation Serif', 'Times New Roman', 'DejaVu Serif', serif", "values": [0,2.5,5,7.5,10,12.5,15,17.5], "labelExpr": "datum.value % 5 == 0 ? datum.label : ''"}},
     "color": {"field": "series", "type": "nominal", "scale": {"domain": ["raw", "smooth"], "range": ["#bfe3f3", "#ff0000"]},
       "legend": {"title": null, "orient": "none", "legendX": 297, "legendY": -49, "direction": "horizontal", "symbolType": "M-4,0H4", "symbolSize": 380, "symbolStrokeWidth": 2.5, "labelFont": "'Liberation Serif', 'Times New Roman', 'DejaVu Serif', serif", "labelFontSize": 19, "labelColor": "#000000", "labelOffset": 48, "labelLimit": 400, "columnPadding": 78, "labelExpr": "datum.label == 'raw' ? 'Tweet Count' : 'Smooth Tweet Count'"}}},
   "layer": [
     {"transform": [{"filter": "datum.series == 'raw'"}], "mark": {"type": "line", "strokeWidth": 2}},
     {"transform": [{"filter": "datum.series == 'smooth'"}], "mark": {"type": "line", "strokeWidth": 1.5}}
   ]},
  {"data": {"name": "e3"}, "mark": {"type": "rule", "color": "#ff0000", "strokeDash": [6, 3], "strokeWidth": 2}, "encoding": {}}
 ]
},
{
 "width": 495, "height": 179,
 "title": {"text": "Tokyo Olympics Games", "offset": 1},
 "encoding": {"x": {"field": "t", "type": "temporal", "scale": {"domain": [{"year":2021,"month":7,"date":4,"hours":17},{"year":2021,"month":9,"date":12,"hours":1,"minutes":30}], "nice": false},
   "axis": {"title": "Time", "grid": true, "labelFont": "'Liberation Serif', 'Times New Roman', 'DejaVu Serif', serif", "titleFont": "'Liberation Serif', 'Times New Roman', 'DejaVu Serif', serif", "values": [{"year":2021,"month":7,"date":8},{"year":2021,"month":7,"date":15},{"year":2021,"month":7,"date":22},{"year":2021,"month":8,"date":1},{"year":2021,"month":8,"date":8},{"year":2021,"month":8,"date":15},{"year":2021,"month":8,"date":22},{"year":2021,"month":9,"date":1},{"year":2021,"month":9,"date":8}],
   "labelExpr": "indexof(['07-08','07-22','08-08','08-22','09-08'], timeFormat(datum.value, '%m-%d')) >= 0 ? [timeFormat(datum.value, '%Y-%m-%d'), '00:00:00'] : ''"}}},
 "layer": [
  {"data": {"name": "p4"}, "transform": [{"fold": ["raw", "smooth"], "as": ["series", "v"]}],
   "encoding": {"y": {"field": "v", "type": "quantitative", "scale": {"domain": [-2.56, 54.7], "nice": false, "zero": false}, "axis": {"title": ["Tweet Count", "(Per 4 Hours)"], "grid": true, "labelFont": "'Liberation Serif', 'Times New Roman', 'DejaVu Serif', serif", "titleFont": "'Liberation Serif', 'Times New Roman', 'DejaVu Serif', serif", "values": [0,10,20,30,40,50]}},
     "color": {"field": "series", "type": "nominal", "scale": {"domain": ["raw", "smooth"], "range": ["#bfe3f3", "#ff0000"]},
       "legend": {"title": null, "orient": "none", "legendX": 297, "legendY": -49, "direction": "horizontal", "symbolType": "M-4,0H4", "symbolSize": 380, "symbolStrokeWidth": 2.5, "labelFont": "'Liberation Serif', 'Times New Roman', 'DejaVu Serif', serif", "labelFontSize": 19, "labelColor": "#000000", "labelOffset": 48, "labelLimit": 400, "columnPadding": 78, "labelExpr": "datum.label == 'raw' ? 'Tweet Count' : 'Smooth Tweet Count'"}}},
   "layer": [
     {"transform": [{"filter": "datum.series == 'raw'"}], "mark": {"type": "line", "strokeWidth": 2}},
     {"transform": [{"filter": "datum.series == 'smooth'"}], "mark": {"type": "line", "strokeWidth": 1.5}}
   ]},
  {"data": {"name": "e4"}, "mark": {"type": "rule", "color": "#ff0000", "strokeDash": [6, 3], "strokeWidth": 2}, "encoding": {}}
 ]
}
]
}
